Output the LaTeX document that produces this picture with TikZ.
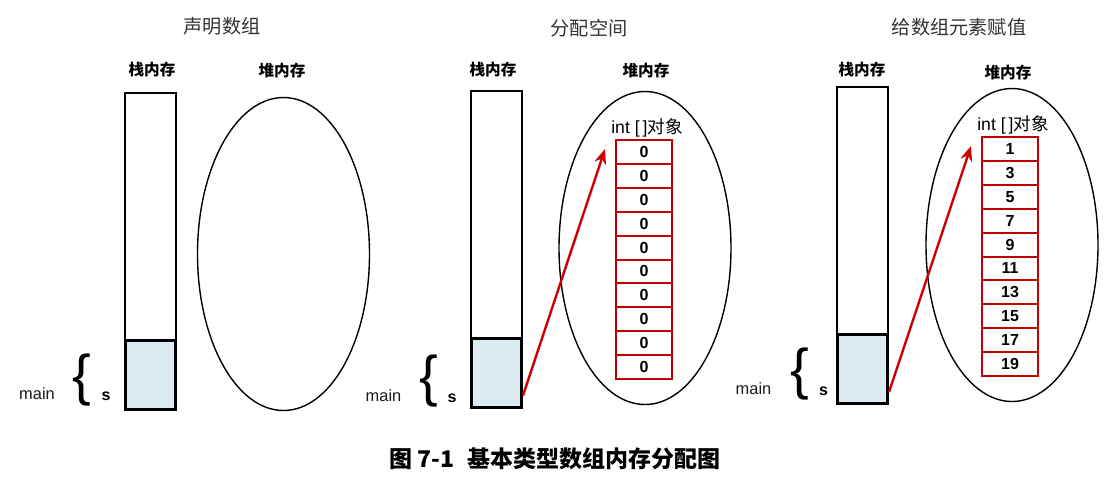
\documentclass[tikz,border=0pt]{standalone}
\usepackage{fontspec}
\setmainfont{Liberation Sans}
\newfontfamily\cjk{Noto Sans CJK SC}
\usetikzlibrary{positioning,shapes.geometric,arrows.meta}
\definecolor{slotblue}{HTML}{DAEBF2}
\definecolor{cellred}{HTML}{C00000}
\definecolor{ptrred}{HTML}{CC0000}
\tikzset{
  title/.style={text=black!80, font=\cjk\fontsize{9.6}{10}\selectfont},
  memlbl/.style={font=\cjk\bfseries\fontsize{7.8}{8}\selectfont},
  stackbox/.style={draw, line width=1pt, minimum width=25.5pt, minimum height=158.5pt, inner sep=0pt},
  slotbox/.style={draw, line width=1.5pt, fill=slotblue, minimum width=25pt, minimum height=34.5pt, inner sep=0pt, anchor=south},
  heap/.style={draw, ellipse, line width=0.7pt, minimum width=86pt, minimum height=156.5pt, inner sep=0pt},
  cell/.style={draw=cellred, line width=1pt, minimum width=28pt, minimum height=11.95pt, inner sep=0pt, font=\bfseries\fontsize{8}{8}\selectfont},
  objlbl/.style={font=\fontsize{8.8}{9}\selectfont},
  brc/.style={font=\fontsize{28}{28}\selectfont, inner sep=0pt},
  varlbl/.style={text=black!90, font=\fontsize{8.2}{9}\selectfont},
  svar/.style={font=\bfseries\fontsize{8}{9}\selectfont},
  ptr/.style={-{Stealth[length=7.5pt,width=6pt]}, draw=ptrred, line width=1.2pt}
}
\begin{document}
\begin{tikzpicture}[x=0.5pt, y=-0.5pt]
    \useasboundingbox (0,0) rectangle (1118,484);

    % declare the array
    \node[title] (t1) at (222,26.5) {声明数组};
    \node[stackbox] (stk1) at (150.5,251) {};
    \node[slotbox] (slot1) at (stk1.south) {};
    \node[heap] (heap1) at (283.5,254) {};
    \node[memlbl] (sl1) at (152,70) {栈内存};
    \node[memlbl] (hl1) at (282,70.5) {堆内存};
    \node[varlbl] (m1) at (37,394) {main};
    \node[brc] (br1) at (82,380) {\{};
    \node[svar] (s1) at (106,396) {s};

    % allocate the space
    \node[title] (t2) at (589,28) {分配空间};
    \node[stackbox] (stk2) at (496.5,249) {};
    \node[slotbox] (slot2) at (stk2.south) {};
    \node[heap] (heap2) at (645,248) {};
    \node[memlbl] (sl2) at (493,70) {栈内存};
    \node[memlbl] (hl2) at (646,71) {堆内存};
    \node[objlbl] (o2) at (647,128) {int [\,]{\cjk 对象}};
    \foreach \v [count=\i] in {0,0,0,0,0,0,0,0,0,0}
        \node[cell] (a\i) at (644,{140+23.9*(\i-0.5)}) {\v};
    \node[varlbl] (m2) at (383.5,396) {main};
    \node[brc] (br2) at (429,381) {\{};
    \node[svar] (s2) at (452,398) {s};
    \draw[ptr] ([yshift=6.5pt]slot2.south east) -- ([xshift=-5pt,yshift=-5pt]a1.north west);

    % assign the elements
    \node[title] (t3) at (959,27) {给数组元素赋值};
    \node[stackbox] (stk3) at (862.5,245.5) {};
    \node[slotbox] (slot3) at (stk3.south) {};
    \node[heap] (heap3) at (1012,245) {};
    \node[memlbl] (sl3) at (862,70) {栈内存};
    \node[memlbl] (hl3) at (1008,72.5) {堆内存};
    \node[objlbl] (o3) at (1013,125) {int [\,]{\cjk 对象}};
    \foreach \v [count=\i] in {1,3,5,7,9,11,13,15,17,19}
        \node[cell] (b\i) at (1010,{137+23.9*(\i-0.5)}) {\v};
    \node[varlbl] (m3) at (753.5,389) {main};
    \node[brc] (br3) at (800,374) {\{};
    \node[svar] (s3) at (823.5,391) {s};
    \draw[ptr] ([yshift=6.5pt]slot3.south east) -- ([xshift=-5pt,yshift=-5pt]b1.north west);

    \node[font=\cjk\bfseries\fontsize{11.5}{12}\selectfont] (cap) at (555,459) {图 7-1\hspace{0.6em}基本类型数组内存分配图};
\end{tikzpicture}
\end{document}
